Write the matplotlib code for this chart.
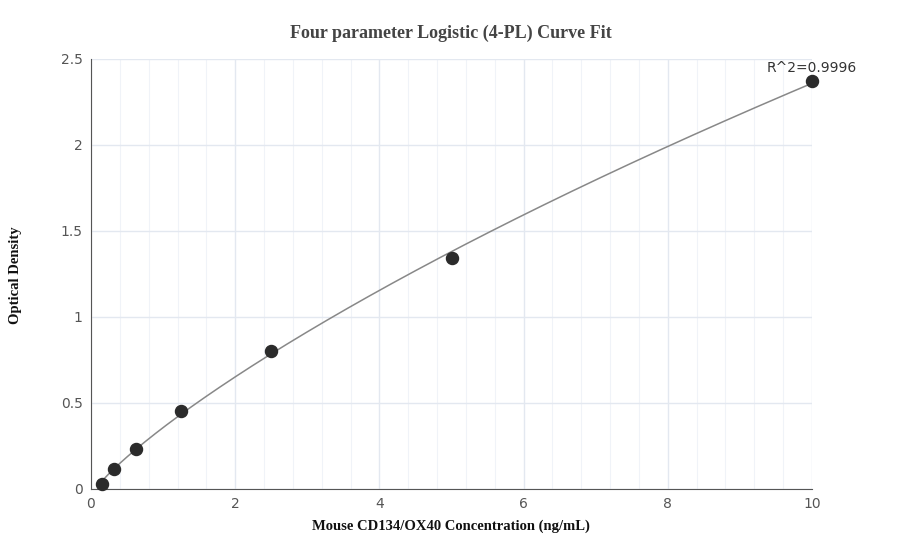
import numpy as np
import matplotlib
matplotlib.use("Agg")
import matplotlib.pyplot as plt

conc = [0.156, 0.3125, 0.625, 1.25, 2.5, 5, 10]
od = [0.03, 0.115, 0.235, 0.455, 0.80, 1.345, 2.375]
r2_label = "R^2=0.9996"
title = "Four parameter Logistic (4-PL) Curve Fit"
xlabel = "Mouse CD134/OX40 Concentration (ng/mL)"
ylabel = "Optical Density"

x = np.array(conc); y = np.array(od)

def f(xx, a, b, c, d):
    return d + (a - d) / (1 + (xx / c) ** b)

# brute-force 4PL fit
best = None
for b in np.linspace(0.8, 1.6, 41):
    for c in np.geomspace(2, 200, 60):
        for d in np.geomspace(2.5, 60, 60):
            g = 1 / (1 + (x / c) ** b)
            a = np.sum(g * (y - d * (1 - g))) / np.sum(g * g)
            err = np.sum((f(x, a, b, c, d) - y) ** 2)
            if best is None or err < best[0]:
                best = (err, a, b, c, d)
_, a, b, c, d = best

fig = plt.figure(figsize=(9.03, 5.6), dpi=100)
ax = fig.add_axes([91/903, 1-489/560, 721/903, 430/560])
xs = np.linspace(x.min(), x.max(), 400)
ax.plot(xs, f(xs, a, b, c, d), color="#888888", lw=1.1, zorder=2)
ax.scatter(x, y, s=75, color="#2b2b2b", zorder=3, clip_on=False)
ax.set_xlim(0, 10); ax.set_ylim(0, 2.5)
ax.set_xticks([0, 2, 4, 6, 8, 10]); ax.set_xticklabels(["0", "2", "4", "6", "8", "10"])
ax.set_yticks([0, 0.5, 1, 1.5, 2, 2.5]); ax.set_yticklabels(["0", "0.5", "1", "1.5", "2", "2.5"])
ax.set_xticks(np.arange(0, 10.01, 0.4), minor=True)
ax.grid(True, which="major", color="#e3e8f0", lw=1)
ax.grid(True, which="minor", axis="x", color="#f0f3f8", lw=0.8)
ax.tick_params(which="both", length=0, labelsize=10, colors="#555555", pad=6)
for s in ["top", "right"]:
    ax.spines[s].set_visible(False)
for s in ["left", "bottom"]:
    ax.spines[s].set_color("#555555")
ax.set_axisbelow(True)
ax.text(10, 2.375 + 0.03, r2_label, ha="center", va="bottom", fontsize=10, color="#333333")
fig.text(451/903, 1-33/560, title, ha="center", va="center", fontsize=13, fontweight="bold",
         family="Liberation Serif", color="#444444")
fig.text(451/903, 1-526/560, xlabel, ha="center", va="center", fontsize=10.5, fontweight="bold",
         family="Liberation Serif", color="#111111")
fig.text(16/903, 1-275/560, ylabel, ha="center", va="center", rotation=90, fontsize=10.5,
         fontweight="bold", family="Liberation Serif", color="#111111")
fig.savefig("out.png", dpi=100)
